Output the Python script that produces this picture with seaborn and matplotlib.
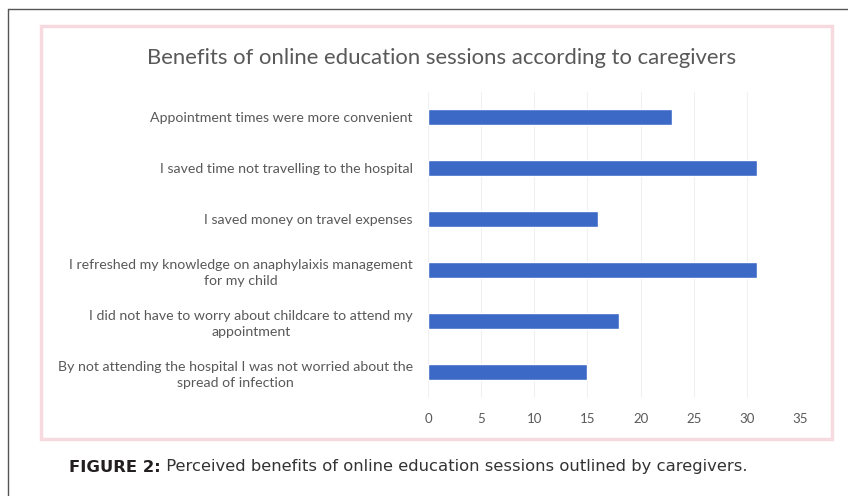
import matplotlib
matplotlib.use('Agg')
import matplotlib.pyplot as plt
import seaborn as sns
from matplotlib.patches import Rectangle
from matplotlib.lines import Line2D

# ── data ─────────────────────────────────────────────
categories = [
    'Appointment times were more convenient',
    'I saved time not travelling to the hospital',
    'I saved money on travel expenses',
    'I refreshed my knowledge on anaphylaixis management\nfor my child',
    'I did not have to worry about childcare to attend my\nappointment',
    'By not attending the hospital I was not worried about the\nspread of infection',
]
values = [23, 31, 16, 31, 18, 15]
xticks = [0, 5, 10, 15, 20, 25, 30, 35]

TITLE = 'Benefits of online education sessions according to caregivers'
CAP_BOLD = 'FIGURE 2:'
CAP_TEXT = ' Perceived benefits of online education sessions outlined by caregivers.'

GREY = '#595959'
BLUE = '#3C69C6'

sns.set_theme(style='white')
plt.rcParams['font.family'] = ['Lato', 'DejaVu Sans']

fig = plt.figure(figsize=(8.48, 4.96), dpi=100)
W, H = 848, 496

def fx(px):
    return px / W

def fy(py):
    return 1 - py / H

# outer frame lines (top + left)
fig.add_artist(Line2D([fx(8), 1], [fy(9), fy(9)], color='#555555', lw=1.0,
                      transform=fig.transFigure))
fig.add_artist(Line2D([fx(8), fx(8)], [fy(9), 0], color='#555555', lw=1.0,
                      transform=fig.transFigure))

# pink chart border
fig.add_artist(Rectangle((fx(41), fy(439)), fx(832) - fx(41), fy(26) - fy(439),
                         transform=fig.transFigure, facecolor='white',
                         edgecolor='#f7dae0', lw=2.5, zorder=0))

ax = fig.add_axes([fx(428), fy(397.5), fx(800) - fx(428), fy(91.5) - fy(397.5)])
ax.set_facecolor('none')
sns.barplot(x=values, y=categories, orient='h', color=BLUE, width=0.32,
            saturation=1, ax=ax, zorder=3)

ax.set_xlim(0, 35)
ax.set_xticks(xticks)
ax.set_xlabel('')
ax.set_ylabel('')
for s in ax.spines.values():
    s.set_visible(False)
ax.grid(axis='x', color='#f0f0f0', lw=0.8, zorder=0)
ax.tick_params(axis='y', length=0, colors=GREY, labelsize=10.2, pad=11)
ax.tick_params(axis='x', length=0, colors=GREY, labelsize=9.5, pad=11)
for lbl in ax.get_yticklabels():
    lbl.set_multialignment('center')
    lbl.set_linespacing(1.4)

fig.text(fx(442), fy(58), TITLE, ha='center', va='center', fontsize=15.9, color=GREY)

# caption: bold part then regular part
t1 = fig.text(fx(69), fy(467), CAP_BOLD, ha='left', va='center', fontsize=11.8,
              fontweight='bold', color='#231f20', family=['DejaVu Sans'])
fig.canvas.draw()
bb = t1.get_window_extent()
fig.text(bb.x1 / fig.bbox.width, fy(467), CAP_TEXT, ha='left', va='center',
         fontsize=11.8, color='#333333', family=['DejaVu Sans'])

fig.savefig('out.png', dpi=100)
